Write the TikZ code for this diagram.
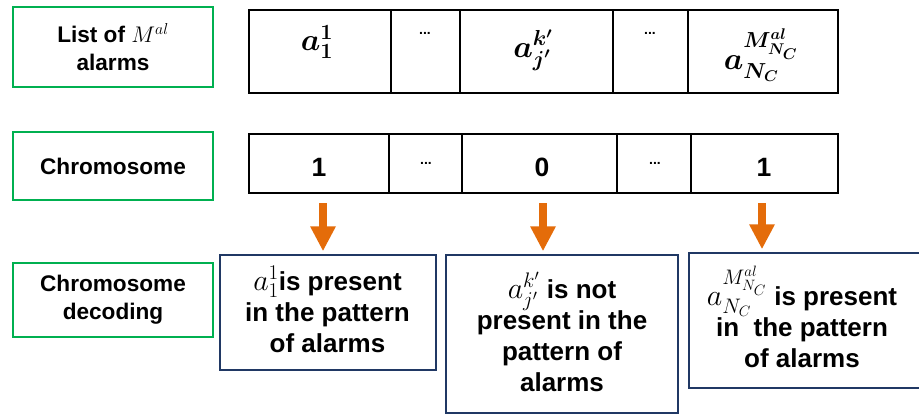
\RequirePackage{fix-cm}
\documentclass[tikz,border=0pt]{standalone}
\usepackage{amsmath,bm}
\usepackage[no-math]{fontspec}
\setmainfont{Liberation Sans}
\usetikzlibrary{arrows.meta}
\definecolor{grn}{RGB}{0,176,80}
\definecolor{navyb}{RGB}{32,56,100}
\definecolor{orng}{RGB}{228,108,10}
\newcommand\mfbig{\fontsize{30}{31}\selectfont}
\begin{document}
\begin{tikzpicture}[x=1pt,y=-1pt,
  lab/.style={draw=grn,line width=2.5pt,minimum width=200pt,inner sep=0pt,align=center,font=\fontsize{22.6}{28}\selectfont\bfseries},
  cell/.style={draw=black,line width=2pt,inner sep=0pt},
  res/.style={draw=navyb,line width=1.5pt,inner sep=0pt},
  restext/.style={align=center,font=\fontsize{26}{31}\selectfont\bfseries,inner sep=0pt},
  dig/.style={font=\fontsize{26.5}{30}\selectfont\bfseries,inner sep=0pt},
  dotsty/.style={font=\fontsize{14}{16}\selectfont\bfseries,inner sep=0pt},
  mtop/.style={font=\fontsize{31}{32}\selectfont,inner sep=0pt},
  arr/.style={draw=orng,line width=8pt,-{Triangle[width=24pt,length=25pt]},shorten >=3pt}]
\useasboundingbox (0,0) rectangle (919,416);
% green labels
\node[lab,minimum height=80pt] (g1) at (113,47) {List of \textmd{$M^{al}$}\\alarms};
\node[lab,minimum height=68pt] (g2) at (113,166) {Chromosome};
\node[lab,minimum height=74pt] (g3) at (113,300) {Chromosome\\decoding};
% row 1
\node[cell,minimum width=142pt,minimum height=83pt] (c1) at (320,51.5) {};
\node[cell,minimum width=69pt,minimum height=83pt] (c2) at (425.5,51.5) {};
\node[cell,minimum width=153pt,minimum height=83pt] (c3) at (536.5,51.5) {};
\node[cell,minimum width=75pt,minimum height=83pt] (c4) at (650.5,51.5) {};
\node[cell,minimum width=150pt,minimum height=83pt] (c5) at (763,51.5) {};
\node[mtop] (m1) at (317,42) {$\bm{a_1^1}$};
\node[dotsty] (e1) at (425,33) {...};
\node[mtop] (m3) at (533,50) {$\bm{a_{j'}^{k'}}$};
\node[dotsty] (e2) at (650,33) {...};
\node[mtop] (m5) at (761,55) {$\bm{a_{N_C}^{M_{N_C}^{al}}}$};
% row 2
\node[cell,minimum width=140pt,minimum height=59pt] (d1) at (319,163.5) {};
\node[cell,minimum width=73pt,minimum height=59pt] (d2) at (425.5,163.5) {};
\node[cell,minimum width=155pt,minimum height=59pt] (d3) at (539.5,163.5) {};
\node[cell,minimum width=74pt,minimum height=59pt] (d4) at (654,163.5) {};
\node[cell,minimum width=147pt,minimum height=59pt] (d5) at (764.5,163.5) {};
\node[dig] (n1) at (319,167.5) {1};
\node[dotsty] (f1) at (426,163) {...};
\node[dig] (n3) at (542,167.5) {0};
\node[dotsty] (f2) at (655,163) {...};
\node[dig] (n5) at (764,167.5) {1};
% result boxes
\node[res,minimum width=216pt,minimum height=115pt] (b1) at (328,312.5) {};
\node[res,minimum width=232pt,minimum height=158pt] (b2) at (562,334) {};
\node[res,minimum width=236pt,minimum height=135pt] (b3) at (807,320.5) {};
\node[restext] (t1) at (327.5,309) {{\mfbig$a_1^1$}is present\\in the pattern\\of alarms};
\node[restext] (t2) at (562,332) {{\mfbig$a_{j'}^{k'}$} is not\\present in the\\pattern of\\alarms};
\node[restext] (t3) at (802,317) {{\mfbig$a_{N_C}^{M_{N_C}^{al}}$} is present\\in\ \ the pattern\\of alarms};
% arrows
\coordinate (s1) at (323,203);
\coordinate (s2) at (543,203);
\coordinate (s3) at (762,203);
\draw[arr] (s1) -- (s1 |- b1.north);
\draw[arr] (s2) -- (s2 |- b2.north);
\draw[arr] (s3) -- (s3 |- b3.north);
\end{tikzpicture}
\end{document}
